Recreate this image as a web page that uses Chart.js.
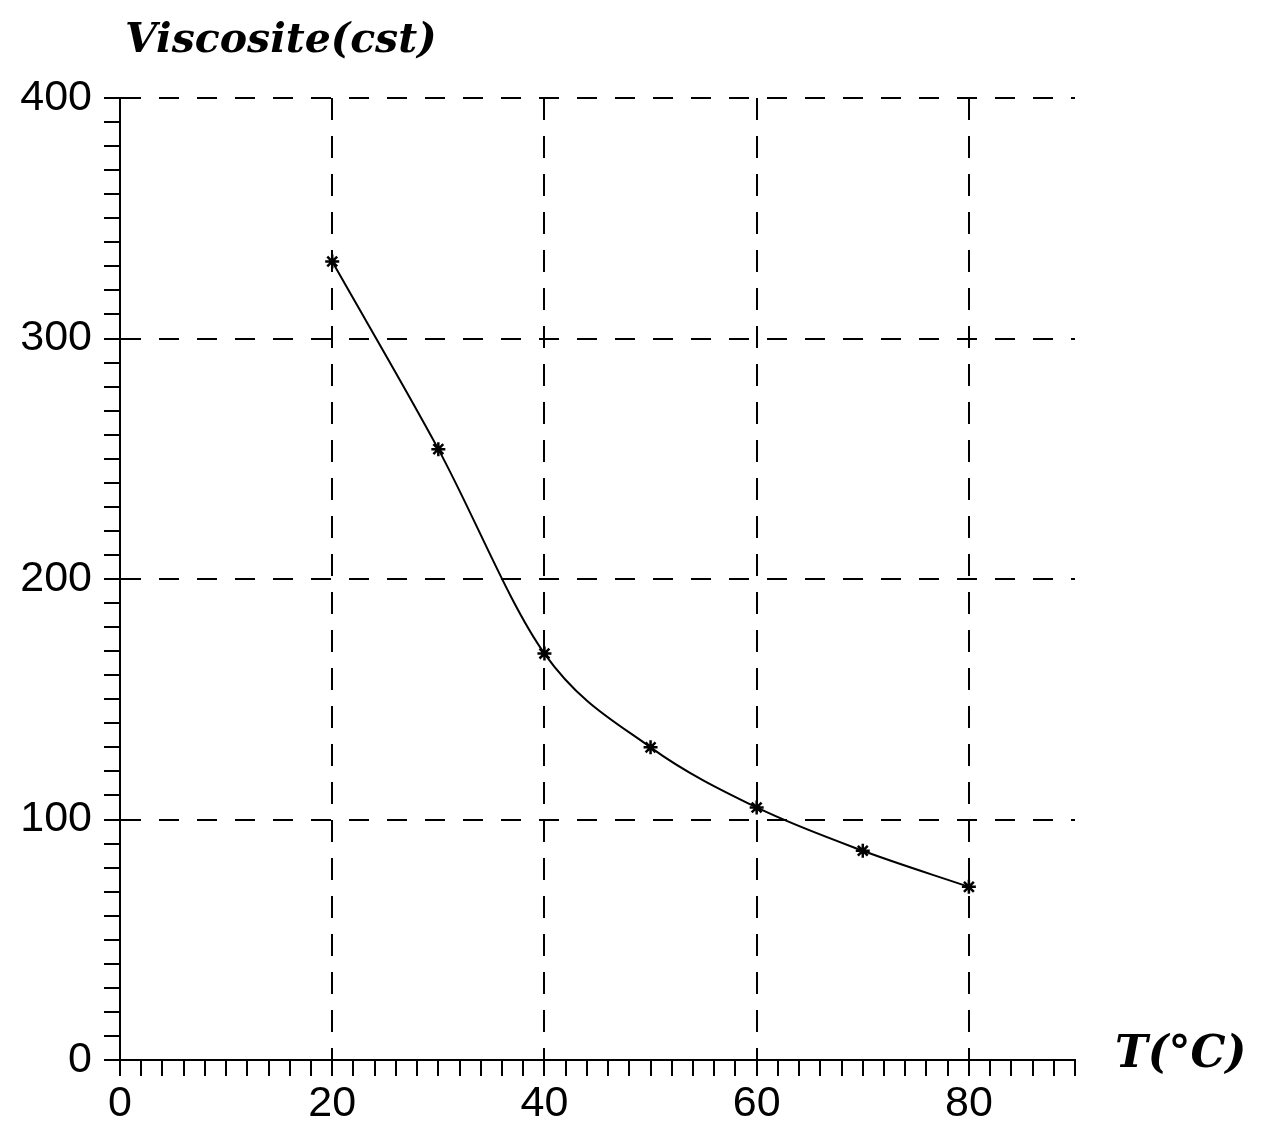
<!DOCTYPE html>
<html>
<head>
<meta charset="utf-8">
<script src="https://cdn.jsdelivr.net/npm/chart.js@4.4.0/dist/chart.umd.min.js"></script>
<style>
  html, body { margin: 0; padding: 0; background: #fff; }
  #wrap { width: 1263px; height: 1128px; }
</style>
</head>
<body>
<div id="wrap"><canvas id="myChart" width="1263" height="1128"></canvas></div>
<script>
    // temperature (°C) and viscosity (cst)
    var temperatures = [20, 30, 40, 50, 60, 70, 80];
    var viscosites = [332, 254, 169, 130, 105, 87, 72];
    var yTitle = "Viscosite(cst)";
    var xTitle = "T(\u00B0C)";

    var points = temperatures.map(function(t, i) {
        return { x: t, y: viscosites[i] };
    });

    var tickFont = { family: "'Liberation Sans', Arial, sans-serif", size: 43 };

    // axis titles placed like the original (top left / right of the x axis)
    var axisTitles = {
        id: "axisTitles",
        afterDraw: function(chart) {
            var ctx = chart.ctx;
            var area = chart.chartArea;
            ctx.save();
            ctx.fillStyle = "#000";
            ctx.textAlign = "left";
            ctx.textBaseline = "alphabetic";
            ctx.font = "italic bold 41px 'DejaVu Serif', serif";
            ctx.fillText(yTitle, area.left + 5, 52);
            ctx.font = "italic bold 44px 'DejaVu Serif', serif";
            ctx.fillText(xTitle, area.right + 40, area.bottom + 7);
            ctx.restore();
        }
    };

    var ctx = document.getElementById("myChart").getContext("2d");
    var myChart = new Chart(ctx, {
        type: "scatter",
        data: {
            datasets: [
                {
                    data: points,
                    showLine: true,
                    cubicInterpolationMode: "monotone",
                    borderColor: "#000",
                    backgroundColor: "#000",
                    borderWidth: 2,
                    pointStyle: "star",
                    pointRadius: 7,
                    pointBorderWidth: 2.5,
                    pointBorderColor: "#000"
                }
            ]
        },
        options: {
            responsive: false,
            animation: false,
            layout: { padding: { top: 98, right: 188, left: 0, bottom: 0 } },
            plugins: {
                legend: { display: false },
                tooltip: { enabled: false }
            },
            scales: {
                x: {
                    type: "linear",
                    min: 0,
                    max: 90,
                    afterFit: function(scale) { scale.height = 68; },
                    ticks: {
                        stepSize: 2,
                        autoSkip: false,
                        maxRotation: 0,
                        color: "#000",
                        font: tickFont,
                        padding: 2,
                        callback: function(v) { return v % 20 === 0 ? v : ""; }
                    },
                    grid: {
                        drawTicks: true,
                        tickLength: 16,
                        tickColor: "#000",
                        tickWidth: 2,
                        tickBorderDash: [],
                        lineWidth: 2,
                        color: function(c) {
                            var v = c.tick ? c.tick.value : 0;
                            return (v % 20 === 0 && v > 0) ? "#000" : "rgba(0,0,0,0)";
                        }
                    },
                    border: { display: true, color: "#000", width: 2, dash: [22, 16] }
                },
                y: {
                    type: "linear",
                    min: 0,
                    max: 400,
                    afterFit: function(scale) { scale.width = 120; },
                    ticks: {
                        stepSize: 10,
                        autoSkip: false,
                        color: "#000",
                        font: tickFont,
                        padding: 12,
                        callback: function(v) { return v % 100 === 0 ? v : ""; }
                    },
                    grid: {
                        drawTicks: true,
                        tickLength: 16,
                        tickColor: "#000",
                        tickWidth: 2,
                        tickBorderDash: [],
                        lineWidth: 2,
                        color: function(c) {
                            var v = c.tick ? c.tick.value : 0;
                            return (v % 100 === 0 && v > 0) ? "#000" : "rgba(0,0,0,0)";
                        }
                    },
                    border: { display: true, color: "#000", width: 2, dash: [20, 18] }
                }
            }
        },
        plugins: [axisTitles]
    });
</script>
</body>
</html>
